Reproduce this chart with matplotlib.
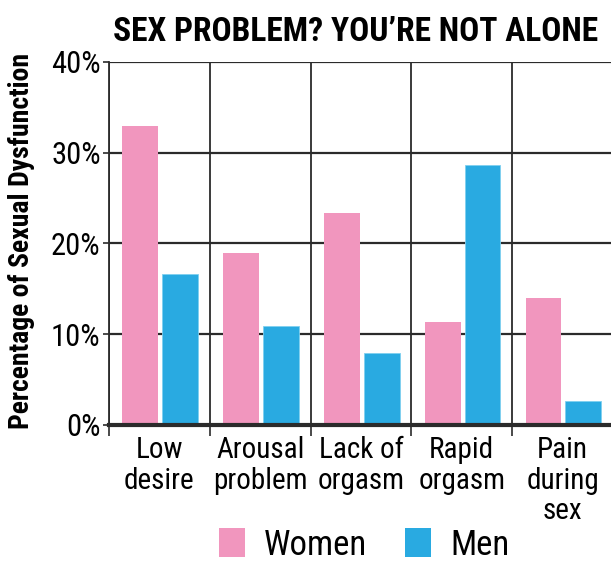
import numpy as np
import matplotlib.pyplot as plt
from matplotlib import font_manager as fm
from matplotlib.ticker import FixedLocator
from matplotlib.patches import Patch

# --- Data ---
categories = ["Low\ndesire", "Arousal\nproblem", "Lack of\norgasm", "Rapid\norgasm", "Pain\nduring\nsex"]
women = [33.0, 19.0, 23.4, 11.3, 14.0]
men = [16.6, 10.9, 7.9, 28.6, 2.6]
yticks = [0, 10, 20, 30, 40]

pink = "#F196BE"
blue = "#29AAE1"
grid_c = "#2b2b2b"

# prefer a condensed face if one is installed, otherwise Roboto
names = {f.name for f in fm.fontManager.ttflist}
fam = "Roboto"
for cand in ["Roboto Condensed", "Liberation Sans Narrow", "Open Sans Condensed", "DejaVu Sans Condensed"]:
    if cand in names:
        fam = cand
        break
plt.rcParams['font.family'] = [fam, 'DejaVu Sans']

fig = plt.figure(figsize=(6.11, 5.61), dpi=100)
ax = fig.add_axes([109 / 611, 1 - 425 / 561, 504 / 611, 363 / 561])

x = np.arange(len(categories))
w = 0.355
ax.bar(x - 0.19, women, width=w, color=pink, zorder=2)
ax.bar(x + 0.205, men, width=w, color=blue, edgecolor="#7fd0f0", linewidth=0.6, zorder=2)

ax.set_xlim(-0.5, len(categories) - 0.5)
ax.set_ylim(0, 40)

# category boundaries as minor ticks + grid
ax.xaxis.set_minor_locator(FixedLocator(np.arange(-0.5, len(categories), 1.0)))
ax.set_xticks(x)
ax.set_xticklabels(categories, fontsize=21, linespacing=1.12)
ax.tick_params(axis="x", which="major", length=0, pad=8)
ax.tick_params(axis="x", which="minor", length=8, width=1.2, color=grid_c, direction="out")
ax.grid(axis="x", which="minor", color=grid_c, linewidth=1.3)

ax.set_yticks(yticks)
ax.set_yticklabels([f"{t}%" for t in yticks], fontsize=22)
ax.tick_params(axis="y", length=4, width=1.2, color=grid_c, pad=2)
ax.grid(axis="y", which="major", color=grid_c, linewidth=1.6)
ax.set_axisbelow(True)

for s in ["top", "right"]:
    ax.spines[s].set_visible(False)
ax.spines["left"].set_color(grid_c)
ax.spines["left"].set_linewidth(1.3)
ax.spines["bottom"].set_color(grid_c)
ax.spines["bottom"].set_linewidth(3)
ax.spines["bottom"].set_zorder(3)

ax.set_ylabel("Percentage of Sexual Dysfunction", fontsize=20, fontweight="bold")
ax.yaxis.set_label_coords(-0.146, 0.508)

title = fig.text(113 / 611, 1 - 41 / 561, "SEX PROBLEM? YOU\u2019RE NOT ALONE",
                 fontsize=22, fontweight="bold", ha="left", va="baseline")
# shrink/grow the title so it spans the same width as in the original
r = fig.canvas.get_renderer()
tw = title.get_window_extent(renderer=r).width
title.set_fontsize(22 * 485 / tw)

handles = [Patch(facecolor=pink, label="Women"), Patch(facecolor=blue, label="Men")]
fig.legend(handles=handles, loc="center", bbox_to_anchor=(364 / 611, 1 - 545 / 561),
           ncol=2, frameon=False, fontsize=25, handlelength=0.75, handleheight=0.9,
           handletextpad=0.55, columnspacing=1.1, borderaxespad=0)

fig.savefig("out.png", dpi=100)
